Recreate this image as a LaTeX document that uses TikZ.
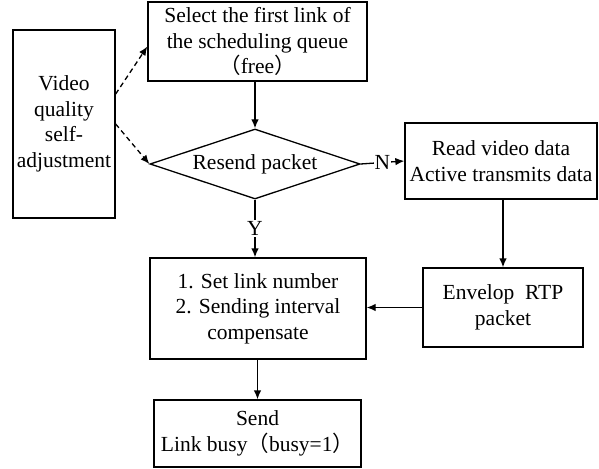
\documentclass[tikz,border=0pt]{standalone}
\usepackage{fontspec}
\setmainfont{Liberation Serif}
\newfontfamily\cjk{Noto Sans CJK SC}
\usetikzlibrary{shapes.geometric,arrows.meta,calc}
\begin{document}
\begin{tikzpicture}[x=1pt,y=-1pt,
  box/.style={draw, line width=1.3pt, align=center, inner sep=0pt,
    font=\fontsize{21.5}{25.5}\selectfont},
  arr/.style={-{Latex[length=9pt,width=7.5pt]}, line width=1.3pt},
  darr/.style={arr, dash pattern=on 5pt off 3.5pt},
  lbl/.style={fill=white, inner sep=1pt, font=\fontsize{21.5}{25.5}\selectfont}]
\useasboundingbox (0,0) rectangle (599,468);
\node[box, minimum width=102pt, minimum height=188pt] (vq) at (64,124)
  {Video\\quality\\self-\\adjustment};
\node[box, minimum width=219pt, minimum height=79pt] (sel) at (257.5,41.5)
  {Select the first link of\\the scheduling queue\\{\cjk（}free{\cjk）}};
\node[box, diamond, aspect=3, minimum width=210pt, minimum height=70pt] (rp) at (255,164)
  {Resend packet};
\node[box, minimum width=192pt, minimum height=76pt] (rd) at (501,161)
  {Read video data\\Active transmits data};
\node[box, minimum width=216pt, minimum height=101pt] (set) at (258,308.5)
  {1. Set link number\\2. Sending interval\\compensate};
\node[box, minimum width=160pt, minimum height=79pt] (env) at (503,307.5)
  {Envelop\ \ RTP\\packet};
\node[box, minimum width=207pt, minimum height=67pt] (snd) at (257.5,433.5)
  {Send\\Link busy{\cjk（}busy=1{\cjk）}};
\coordinate (d1s) at ($(vq.east)+(0,-30)$);
\coordinate (d1e) at ($(sel.west)+(0,5)$);
\draw[darr] (d1s) -- (d1e);
\draw[darr] (vq.east) -- (rp.west);
\draw[arr] (sel.south -| rp.north) -- (rp.north);
\draw[arr] (rp.east) -- node[lbl] {N} (rd.west);
\draw[arr] (rp.south) -- node[lbl] {Y} (rp.south |- set.north);
\draw[arr] (rd.south -| env.north) -- (env.north);
\draw[arr] (env.west) -- (env.west -| set.east);
\draw[arr] (set.south -| snd.north) -- (snd.north);
\end{tikzpicture}
\end{document}
